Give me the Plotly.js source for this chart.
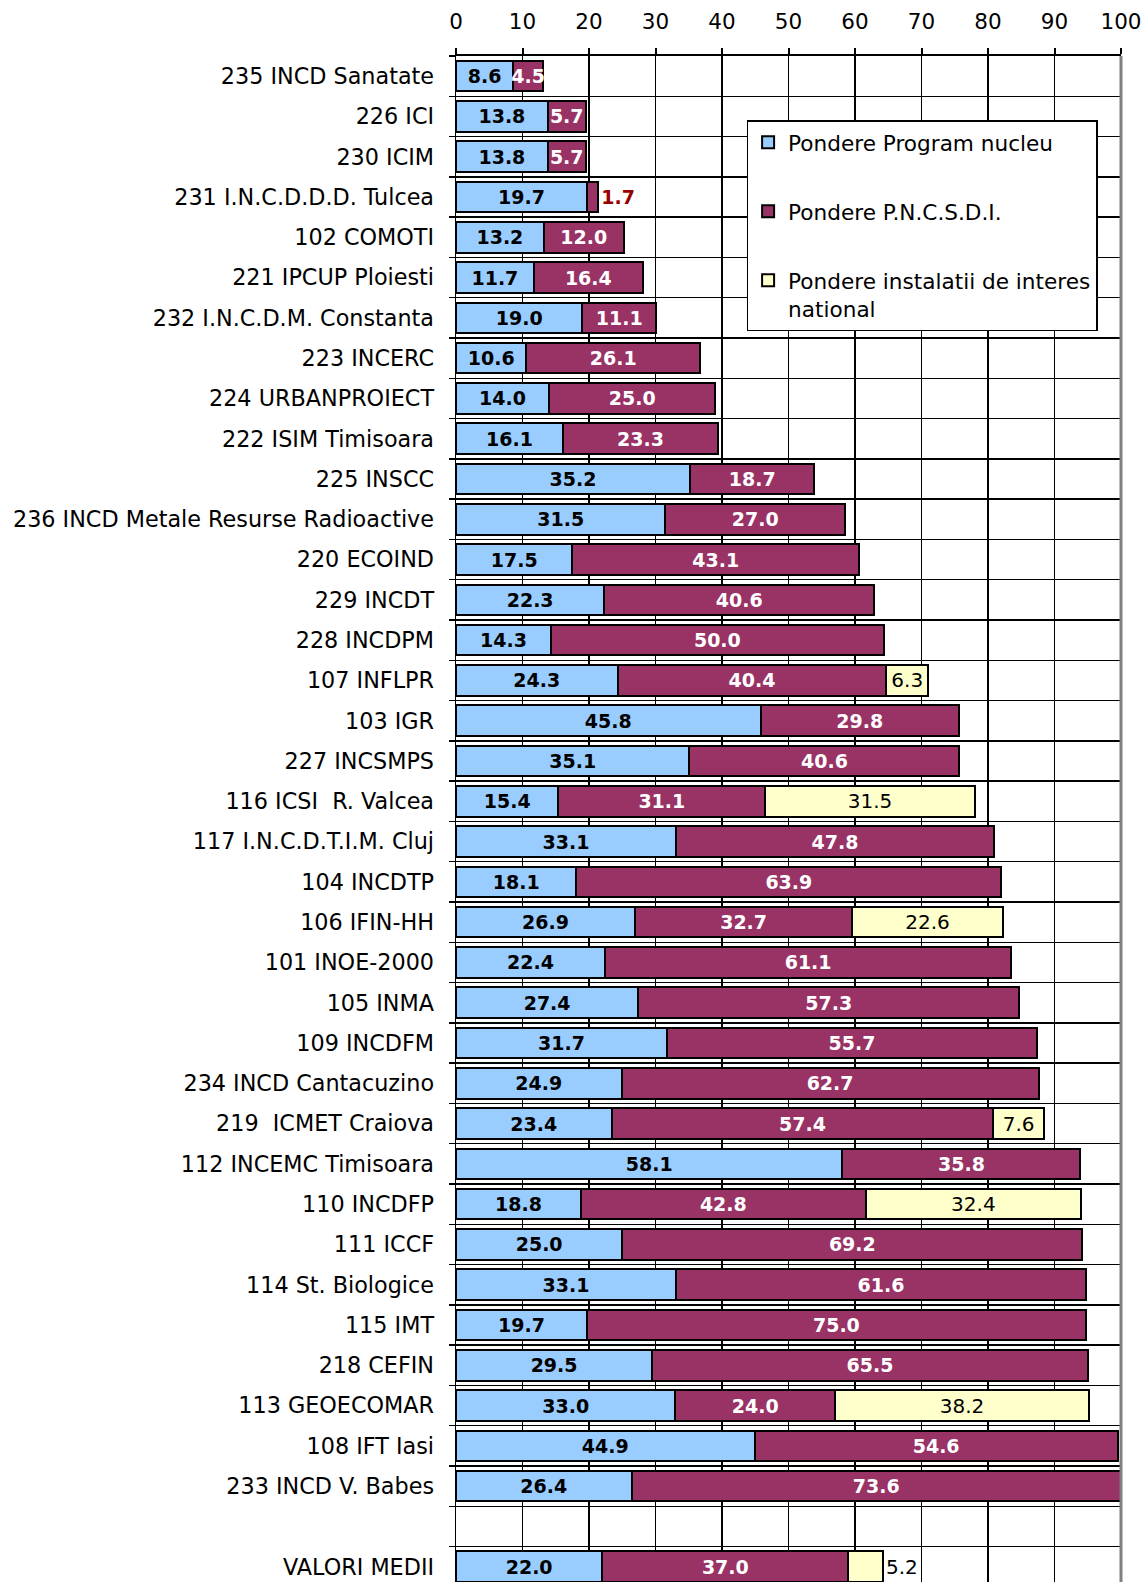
<!DOCTYPE html>
<html>
<head>
<meta charset="utf-8">
<script src="https://cdn.plot.ly/plotly-3.0.1.min.js"></script>
<style>html,body{margin:0;padding:0;background:#fff;}#chart{width:1146px;height:1582px;}</style>
</head>
<body>
<div id="chart"></div>
<script>
const categories = [
  "235 INCD Sanatate", "226 ICI", "230 ICIM", "231 I.N.C.D.D.D. Tulcea", "102 COMOTI",
  "221 IPCUP Ploiesti", "232 I.N.C.D.M. Constanta", "223 INCERC", "224 URBANPROIECT",
  "222 ISIM Timisoara", "225 INSCC", "236 INCD Metale Resurse Radioactive", "220 ECOIND",
  "229 INCDT", "228 INCDPM", "107 INFLPR", "103 IGR", "227 INCSMPS", "116 ICSI  R. Valcea",
  "117 I.N.C.D.T.I.M. Cluj", "104 INCDTP", "106 IFIN-HH", "101 INOE-2000", "105 INMA",
  "109 INCDFM", "234 INCD Cantacuzino", "219  ICMET Craiova", "112 INCEMC Timisoara",
  "110 INCDFP", "111 ICCF", "114 St. Biologice", "115 IMT", "218 CEFIN", "113 GEOECOMAR",
  "108 IFT Iasi", "233 INCD V. Babes", "\u00a0", "VALORI MEDII"
];
const nucleu = [8.6, 13.8, 13.8, 19.7, 13.2, 11.7, 19.0, 10.6, 14.0, 16.1, 35.2, 31.5, 17.5,
  22.3, 14.3, 24.3, 45.8, 35.1, 15.4, 33.1, 18.1, 26.9, 22.4, 27.4, 31.7, 24.9, 23.4, 58.1,
  18.8, 25.0, 33.1, 19.7, 29.5, 33.0, 44.9, 26.4, null, 22.0];
const pncsdi = [4.5, 5.7, 5.7, 1.7, 12.0, 16.4, 11.1, 26.1, 25.0, 23.3, 18.7, 27.0, 43.1,
  40.6, 50.0, 40.4, 29.8, 40.6, 31.1, 47.8, 63.9, 32.7, 61.1, 57.3, 55.7, 62.7, 57.4, 35.8,
  42.8, 69.2, 61.6, 75.0, 65.5, 24.0, 54.6, 73.6, null, 37.0];
const instalatii = [null, null, null, null, null, null, null, null, null, null, null, null, null,
  null, null, 6.3, null, null, 31.5, null, null, 22.6, null, null, null, null, 7.6, null,
  32.4, null, null, null, null, 38.2, null, null, null, 5.2];
const seriesNames = ["Pondere Program nucleu", "Pondere P.N.C.S.D.I.", "Pondere instalatii de interes<br>national"];

// label placement (style only)
const outsidePncsdi = ["231 I.N.C.D.D.D. Tulcea"];
const outsideInstal = ["VALORI MEDII"];

const FONT = "DejaVu Sans";
const line = {color: "#000000", width: 2};

const t1 = {
  type: "bar", orientation: "h", name: seriesNames[0], legendgroup: "a",
  y: categories, x: nucleu,
  marker: {color: "#99CCFF", line: line},
  texttemplate: "%{x:.1f}", textposition: "inside", insidetextanchor: "middle",
  textangle: 0, constraintext: "none", cliponaxis: false,
  textfont: {family: FONT, size: 19, color: "#000000", weight: "bold"},
  hoverinfo: "x+y"
};
const t2 = {
  type: "bar", orientation: "h", name: seriesNames[1], legendgroup: "b",
  y: categories, x: pncsdi,
  marker: {color: "#993366", line: line},
  texttemplate: "%{x:.1f}",
  textposition: categories.map(c => outsidePncsdi.includes(c) ? "outside" : "inside"),
  insidetextanchor: "middle", textangle: 0, constraintext: "none", cliponaxis: false,
  textfont: {family: FONT, size: 19, weight: "bold",
    color: categories.map(c => outsidePncsdi.includes(c) ? "#990000" : "#FFFFFF")},
  hoverinfo: "x+y"
};
const t3 = {
  type: "bar", orientation: "h", name: seriesNames[2], legendgroup: "c",
  y: categories, x: instalatii,
  marker: {color: "#FFFFCC", line: line},
  texttemplate: "%{x:.1f}",
  textposition: categories.map(c => outsideInstal.includes(c) ? "outside" : "inside"),
  insidetextanchor: "middle", textangle: 0, constraintext: "none", cliponaxis: false,
  textfont: {family: FONT, size: 20, color: "#000000"},
  hoverinfo: "x+y"
};

const layout = {
  width: 1146, height: 1582,
  margin: {l: 456, r: 25, t: 56, b: 0, pad: 0},
  paper_bgcolor: "#ffffff", plot_bgcolor: "#ffffff",
  barmode: "stack", bargap: 0.24,
  font: {family: FONT, size: 21, color: "#000000"},
  showlegend: true,
  legend: {
    x: 0.437, y: 0.958, xanchor: "left", yanchor: "top",
    bgcolor: "#ffffff", bordercolor: "#000000", borderwidth: 1.5,
    font: {family: FONT, size: 21.6, color: "#000000"},
    traceorder: "grouped", tracegroupgap: 38, valign: "top"
  },
  xaxis: {
    side: "top", range: [0, 100], tickmode: "linear", tick0: 0, dtick: 10,
    showgrid: true, gridcolor: "#000000", gridwidth: 1.5, zeroline: false,
    showline: true, linecolor: "#000000", linewidth: 2.5,
    ticks: "outside", ticklen: 6, tickwidth: 2, tickcolor: "#000000",
    ticklabelstandoff: 10,
    tickfont: {family: FONT, size: 21.5, color: "#000000"},
    fixedrange: true
  },
  yaxis: {
    type: "category", categoryorder: "array", categoryarray: categories,
    autorange: false, range: [37.38, -0.5],
    tickson: "boundaries", showgrid: true, gridcolor: "#000000", gridwidth: 1.5,
    showline: true, linecolor: "#000000", linewidth: 1.5, zeroline: false,
    ticks: "outside", ticklen: 6, tickwidth: 1.5, tickcolor: "#000000",
    ticklabelstandoff: 16,
    tickfont: {family: FONT, size: 22.3, color: "#000000"},
    fixedrange: true
  },
  shapes: [{
    type: "line", xref: "paper", yref: "paper", x0: 1, x1: 1, y0: 0, y1: 1,
    line: {color: "#808080", width: 3}, layer: "above"
  }]
};

Plotly.newPlot("chart", [t1, t2, t3], layout, {displayModeBar: false, staticPlot: true});
</script>
</body>
</html>
